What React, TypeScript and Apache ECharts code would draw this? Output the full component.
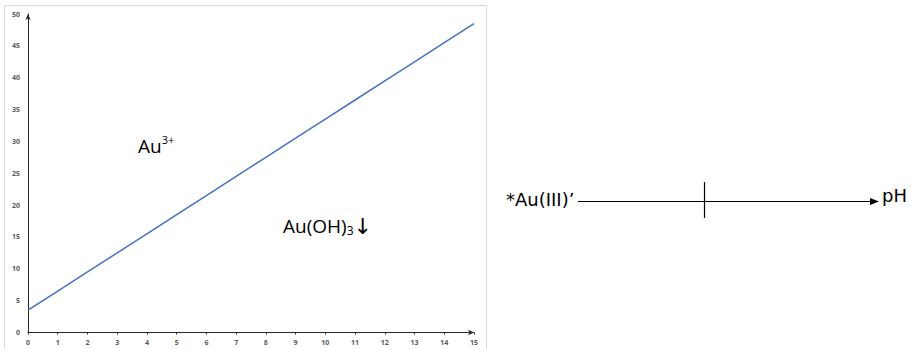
import React, { useEffect, useRef } from "react";
import * as echarts from "echarts";

const xValues = [0, 1, 2, 3, 4, 5, 6, 7, 8, 9, 10, 11, 12, 13, 14, 15];
const yValues = [3.5, 6.5, 9.5, 12.5, 15.5, 18.5, 21.5, 24.5, 27.5, 30.5, 33.5, 36.5, 39.5, 42.5, 45.5, 48.5];
const scaleLeftLabel = "*Au(III)’";
const scaleRightLabel = "pH";

export default function App() {
  const ref = useRef<HTMLDivElement>(null);
  useEffect(() => {
    if (!ref.current) return;
    const chart = echarts.init(ref.current, null, { renderer: "svg" });
    const font = "'Open Sans', 'Noto Sans', sans-serif";
    const dv = "'DejaVu Sans', sans-serif";
    chart.setOption({
      animation: false,
      backgroundColor: "#ffffff",
      grid: { left: 28, right: 438, top: 14, bottom: 16.5, containLabel: false },
      xAxis: {
        type: "value",
        min: 0,
        max: 15,
        interval: 1,
        axisLine: { show: true, symbol: ["none", "arrow"], symbolSize: [4, 6], lineStyle: { color: "#262626", width: 1 } },
        axisTick: { show: true, length: 2, lineStyle: { color: "#262626" } },
        axisLabel: { fontSize: 7, color: "#595959", fontWeight: "bold", margin: 6, fontFamily: font },
        splitLine: { show: false },
      },
      yAxis: {
        type: "value",
        min: 0,
        max: 50,
        interval: 5,
        axisLine: { show: true, symbol: ["none", "arrow"], symbolSize: [4, 6], lineStyle: { color: "#262626", width: 1 } },
        axisTick: { show: false },
        axisLabel: { fontSize: 7, color: "#595959", fontWeight: "bold", margin: 8, fontFamily: font },
        splitLine: { show: false },
      },
      series: [
        {
          type: "line",
          data: xValues.map((x, i) => [x, yValues[i]]),
          showSymbol: false,
          lineStyle: { color: "#4472C4", width: 1.5 },
        },
      ],
      graphic: [
        {
          type: "rect",
          shape: { x: 4.5, y: 5.5, width: 482, height: 350 },
          style: { fill: "none", stroke: "#d9d9d9", lineWidth: 1 },
          silent: true,
        },
        {
          type: "text",
          left: 138,
          top: 134,
          style: {
            text: "{a|Au}{s|3+}",
            rich: {
              a: { fontSize: 19, fontFamily: font, fill: "#000", verticalAlign: "bottom" },
              s: { fontSize: 11, fontFamily: font, fill: "#000", verticalAlign: "top", padding: [0, 0, 10, 0] },
            },
          },
        },
        {
          type: "text",
          left: 283,
          top: 215,
          style: {
            text: "{a|Au(OH)}{s|3}{r|↓}",
            rich: {
              a: { fontSize: 19, fontFamily: font, fill: "#000" },
              s: { fontSize: 12, fontFamily: font, fill: "#000", padding: [8, 0, 0, 0] },
              r: { fontSize: 22, fontFamily: dv, fill: "#000" },
            },
          },
        },
        {
          type: "text",
          left: 506,
          top: 190,
          style: { text: scaleLeftLabel, fontSize: 18, fontFamily: dv, fill: "#000" },
        },
        {
          type: "line",
          shape: { x1: 578, y1: 201.5, x2: 872, y2: 201.5 },
          style: { stroke: "#000", lineWidth: 1.2 },
        },
        {
          type: "polygon",
          shape: { points: [[870, 198], [879, 201.5], [870, 205]] },
          style: { fill: "#000" },
        },
        {
          type: "line",
          shape: { x1: 704.5, y1: 182, x2: 704.5, y2: 218 },
          style: { stroke: "#000", lineWidth: 1.2 },
        },
        {
          type: "text",
          left: 882,
          top: 186,
          style: { text: scaleRightLabel, fontSize: 18, fontFamily: dv, fill: "#000" },
        },
      ],
    });
    return () => chart.dispose();
  }, []);
  return (
    <div
      ref={ref}
      style={{ position: "fixed", left: 0, top: 0, width: 912, height: 349, background: "#fff" }}
    />
  );
}
